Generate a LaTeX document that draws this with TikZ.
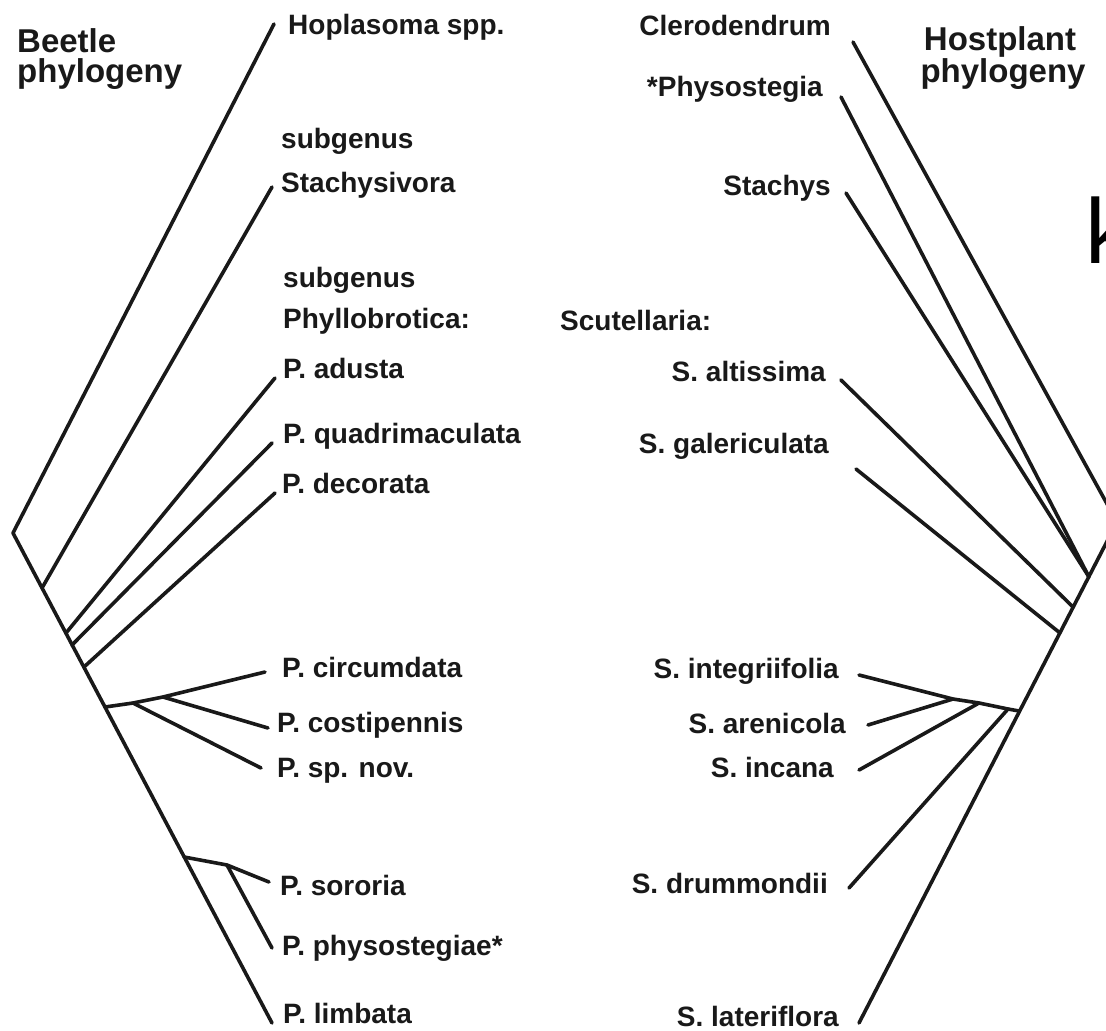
\documentclass[tikz,border=0pt]{standalone}
\usepackage{fontspec}
\setmainfont{Liberation Sans}
\begin{document}
\begin{tikzpicture}[x=1pt,y=-1pt,
  branch/.style={line width=3.6pt, line cap=round, line join=round, draw=black!90},
  lab/.style={inner sep=0pt, font=\fontsize{28}{28}\selectfont\bfseries, text=black!90},
  labl/.style={lab, anchor=base west},
  labr/.style={lab, anchor=base east},
  ttl/.style={inner sep=0pt, font=\fontsize{33}{33}\selectfont\bfseries, text=black!90}]
\useasboundingbox (0,0) rectangle (1106,1031);
\fill[white] (0,0) rectangle (1106,1031);
\begin{scope}
\clip (0,0) rectangle (1106,1031);
% ---------- titles ----------
\node[ttl, anchor=base west] (bt1) at (17,52) {Beetle};
\node[ttl, anchor=base west] (bt2) at (17,82) {phylogeny};
\node[ttl, anchor=base] (ht1) at (1000,50) {Hostplant};
\node[ttl, anchor=base] (ht2) at (1003,82) {phylogeny};
\node[inner sep=0pt, anchor=base west, font=\fontsize{92}{92}\selectfont] (kk) at (1085,263) {k};
% ---------- left labels ----------
\node[labl] (lHop) at (288,34) {Hoplasoma spp.};
\node[labl] (lSub1) at (281,148) {subgenus};
\node[labl] (lSt) at (281,192) {Stachysivora};
\node[labl] (lSub2) at (283,287) {subgenus};
\node[labl] (lPhy) at (283,328) {Phyllobrotica:};
\node[labl] (lAd) at (283,378) {P. adusta};
\node[labl] (lQu) at (283,443) {P. quadrimaculata};
\node[labl] (lDe) at (282,493) {P. decorata};
\node[labl] (lCi) at (282,677) {P. circumdata};
\node[labl] (lCo) at (277,732) {P. costipennis};
\node[labl] (lSp) at (277,777) {P. sp. nov.};
\node[labl] (lSo) at (280,895) {P. sororia};
\node[labl] (lPh) at (282,955) {P. physostegiae*};
\node[labl] (lLi) at (283,1023) {P. limbata};
% ---------- right labels ----------
\node[labr] (rCl) at (831,35) {Clerodendrum};
\node[labr] (rPy) at (823,96) {*Physostegia};
\node[labr] (rSy) at (831,195) {Stachys};
\node[labl] (rSc) at (560,330) {Scutellaria:};
\node[labr] (rAl) at (826,381) {S. altissima};
\node[labr] (rGa) at (829,453) {S. galericulata};
\node[labr] (rIn) at (839,678) {S. integriifolia};
\node[labr] (rAr) at (846,733) {S. arenicola};
\node[labr] (rIc) at (834,777) {S. incana};
\node[labr] (rDr) at (828,893) {S. drummondii};
\node[labr] (rLa) at (839,1026) {S. lateriflora};
% ---------- left tree points ----------
\coordinate (root) at (13,533);
\coordinate (tHop) at (274,24);
\coordinate (jSt) at (42,588);
\coordinate (tSt) at (272,187);
\coordinate (jAd) at (66,633);
\coordinate (tAd) at (275,378);
\coordinate (jQu) at (72,645);
\coordinate (tQu) at (272,443);
\coordinate (jDe) at (84,667);
\coordinate (tDe) at (275,493);
\coordinate (jCi) at (105,707);
\coordinate (kSp) at (133,703);
\coordinate (kCi) at (163,697);
\coordinate (tCi) at (265,672);
\coordinate (tCo) at (268,728);
\coordinate (tSp) at (261,768);
\coordinate (jSo) at (184,857);
\coordinate (kPh) at (227,865);
\coordinate (tSo) at (269,882);
\coordinate (tPh) at (272,948);
\coordinate (tLi) at (272,1023);
% ---------- left tree ----------
\draw[branch] (tHop) -- (root) -- (tLi);
\draw[branch] (jSt) -- (tSt);
\draw[branch] (jAd) -- (tAd);
\draw[branch] (jQu) -- (tQu);
\draw[branch] (jDe) -- (tDe);
\draw[branch] (jCi) -- (kSp) -- (kCi) -- (tCi);
\draw[branch] (kCi) -- (tCo);
\draw[branch] (kSp) -- (tSp);
\draw[branch] (jSo) -- (kPh) -- (tSo);
\draw[branch] (kPh) -- (tPh);
% ---------- right tree points ----------
\coordinate (tLa) at (859,1023);
\coordinate (rTop) at (1117,522);
\coordinate (tCl) at (853,42);
\coordinate (tPy) at (841,97);
\coordinate (tSy) at (846,193);
\coordinate (jSP) at (1089,577);
\coordinate (tAl) at (841,380);
\coordinate (jAl) at (1073,607);
\coordinate (tGa) at (856,469);
\coordinate (jGa) at (1060,633);
\coordinate (jIn) at (1019,711);
\coordinate (kIc) at (979,703);
\coordinate (kAr) at (953,699);
\coordinate (tIn) at (859,675);
\coordinate (tAr) at (868,725);
\coordinate (tIc) at (859,770);
\coordinate (kDr) at (1008,709);
\coordinate (tDr) at (849,888);
% ---------- right tree ----------
\draw[branch] (tLa) -- (rTop) -- (tCl);
\draw[branch] (tPy) -- (jSP);
\draw[branch] (tSy) -- (jSP);
\draw[branch] (tAl) -- (jAl);
\draw[branch] (tGa) -- (jGa);
\draw[branch] (jIn) -- (kDr) -- (kIc) -- (kAr) -- (tIn);
\draw[branch] (kAr) -- (tAr);
\draw[branch] (kIc) -- (tIc);
\draw[branch] (kDr) -- (tDr);
\end{scope}
\end{tikzpicture}
\end{document}
